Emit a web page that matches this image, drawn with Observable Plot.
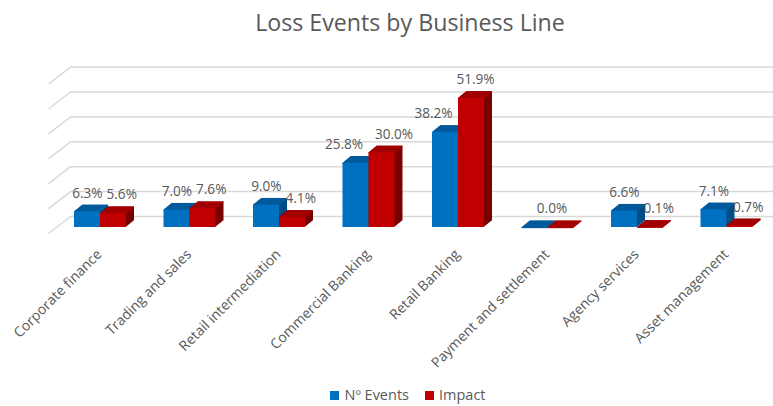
<!DOCTYPE html>
<html><head><meta charset="utf-8">
<script src="https://cdn.jsdelivr.net/npm/d3@7"></script>
<script src="https://cdn.jsdelivr.net/npm/@observablehq/plot@0.6"></script>
<style>
html,body{margin:0;padding:0;background:#fff;}
body{width:773px;height:406px;overflow:hidden;font-family:"Open Sans",sans-serif;color:#595959;}
#title{width:773px;height:44px;line-height:44px;font-size:23.2px;text-align:center;padding-left:47px;box-sizing:border-box;white-space:nowrap;}
#chart svg{display:block;overflow:visible;}
#legend{width:773px;height:22px;line-height:22px;font-size:14.5px;display:flex;justify-content:center;align-items:center;padding-left:43px;box-sizing:border-box;}
#legend .item{display:flex;align-items:center;margin:0 8px;}
#legend .sw{width:9px;height:9px;margin-right:5px;}
</style></head>
<body>
<div id="title">Loss Events by Business Line</div>
<div id="chart"></div>
<div id="legend"></div>
<script>
const categories = ["Corporate finance","Trading and sales","Retail intermediation","Commercial Banking","Retail Banking","Payment and settlement","Agency services","Asset management"];
const seriesNames = ["Nº Events","Impact"];
const events = [6.3, 7.0, 9.0, 25.8, 38.2, 0.0, 6.6, 7.1];
const impact = [5.6, 7.6, 4.1, 30.0, 51.9, 0.0, 0.1, 0.7];
const yTicks = [0, 10, 20, 30, 40, 50, 60];

// layout (pixels)
const W = 773, H = 340, ML = 55.25, MR = 1.75, Y0 = 183, YTOP = 33.6;
const kx = (W - ML - MR) / categories.length;   // px per category unit
const ky = (Y0 - YTOP) / 60;                     // px per percent
const BAR = 26 / kx;                             // bar width in x units
const DEPTH_X = 8, DEPTH_Y = 6.5;                // bar extrusion (px)
const BACK_X = 14.75, BACK_Y = 11, FRONT_X = -7.25, FRONT_Y = 6; // floor geometry (px)
const LABEL_DY = 18.5;
const frontCol = ["#0070C0", "#C00000"];
const topCol = ["#005A9C", "#A20000"];
const sideCol = ["#004C85", "#780000"];
const gridCol = "#D9D9D9";
const fmt = v => v.toFixed(1) + "%";

const rows = categories.flatMap((c, i) => [
  {cat: c, i, s: 0, v: events[i], x1: i + 0.5 - BAR, x2: i + 0.5},
  {cat: c, i, s: 1, v: impact[i], x1: i + 0.5, x2: i + 0.5 + BAR}
]);

// data labels, with simple collision handling inside each pair
const labels = [];
const textW = t => t.length * 7.6;
categories.forEach((c, i) => {
  const b = rows[2 * i], r = rows[2 * i + 1];
  let bx = (b.x1 + b.x2) / 2 * kx + DEPTH_X / 2, rx = (r.x1 + r.x2) / 2 * kx + DEPTH_X / 2;
  const by = b.v * ky, ry = r.v * ky;
  const bt = fmt(b.v), rt = fmt(r.v);
  if (Math.abs(by - ry) < 18) {
    if (bt === rt) {
      labels.push({x: (bx + rx) / 2 / kx, y: Math.max(b.v, r.v), t: bt});
      return;
    }
    const need = (textW(bt) + textW(rt)) / 2 + 4 - (rx - bx);
    if (need > 0) { bx -= need / 2; rx += need / 2; }
  }
  // keep the blue label clear of a taller red bar beside it
  if (ry > by + LABEL_DY - 10) bx = Math.min(bx, r.x1 * kx - 6 - textW(bt) / 2);
  labels.push({x: bx / kx, y: b.v, t: bt});
  labels.push({x: rx / kx, y: r.v, t: rt});
});

const marks = [];
// back wall gridlines
marks.push(Plot.ruleY(yTicks, {y: d => d, dx: BACK_X, dy: -BACK_Y, stroke: gridCol, strokeWidth: 1.5}));
// side wall diagonals
marks.push(Plot.link(yTicks, {
  x1: () => FRONT_X / kx, y1: d => d - FRONT_Y / ky,
  x2: () => BACK_X / kx, y2: d => d + BACK_Y / ky,
  stroke: gridCol, strokeWidth: 1.5
}));
const steps = 10;
for (let s = 0; s < 2; s++) {
  const data = rows.filter(d => d.s === s);
  for (let k = 1; k <= steps; k++) {
    marks.push(Plot.rect(data, {x1: "x1", x2: "x2", y1: () => 0, y2: "v", fill: sideCol[s],
      dx: DEPTH_X * k / steps, dy: -DEPTH_Y * k / steps}));
  }
  for (let k = 0; k <= steps; k++) {
    marks.push(Plot.ruleY(data, {x1: "x1", x2: "x2", y: "v", stroke: topCol[s], strokeWidth: 1.3,
      dx: DEPTH_X * k / steps, dy: -DEPTH_Y * k / steps}));
  }
  marks.push(Plot.rect(data, {x1: "x1", x2: "x2", y1: () => 0, y2: "v", fill: frontCol[s]}));
}
marks.push(Plot.text(labels, {x: "x", y: "y", text: "t", dy: -LABEL_DY, fill: "#595959", fontSize: 13.6}));
marks.push(Plot.text(categories, {x: (d, i) => i + 0.5, y: () => 0, text: d => d, rotate: -45,
  textAnchor: "end", dy: 24.5, dx: -1, fill: "#595959", fontSize: 14}));

const chart = Plot.plot({
  width: W, height: H,
  marginLeft: ML, marginRight: MR, marginTop: YTOP, marginBottom: H - Y0,
  x: {domain: [0, categories.length], axis: null},
  y: {domain: [0, 60], axis: null},
  style: {fontFamily: "'Open Sans', sans-serif", background: "transparent", overflow: "visible"},
  marks
});
document.getElementById("chart").appendChild(chart);

const legend = document.getElementById("legend");
seriesNames.forEach((n, s) => {
  const it = document.createElement("div"); it.className = "item";
  const sw = document.createElement("div"); sw.className = "sw"; sw.style.background = frontCol[s];
  const tx = document.createElement("span"); tx.textContent = n;
  it.appendChild(sw); it.appendChild(tx); legend.appendChild(it);
});
</script>
</body></html>
